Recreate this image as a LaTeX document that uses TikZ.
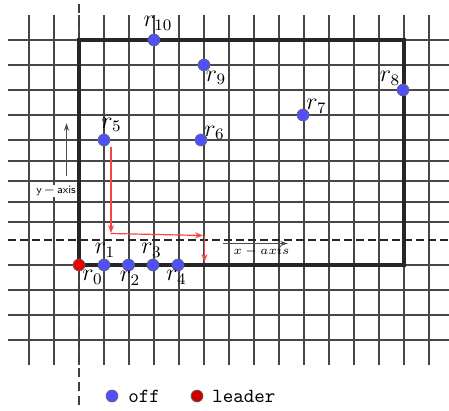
\documentclass[tikz,border=0pt]{standalone}
\usetikzlibrary{arrows.meta}
\definecolor{robotblue}{RGB}{80,80,250}
\definecolor{leaderred}{RGB}{240,0,0}
\definecolor{legendred}{RGB}{200,0,0}
\definecolor{pathred}{RGB}{245,70,70}
\begin{document}
\begin{tikzpicture}[x=0.5pt,y=-0.5pt,
  gridline/.style={draw=black!72,line width=0.55pt},
  border/.style={draw=black!85,line width=1.6pt},
  axisdashv/.style={draw=black!75,line width=1pt,dash pattern=on 4.5pt off 2.5pt},
  axisdashh/.style={draw=black!85,line width=1.3pt,dash pattern=on 4pt off 2pt},
  robot/.style={circle,draw=black!60,line width=0.3pt,fill=robotblue,minimum size=6pt,inner sep=0pt},
  leaderbot/.style={robot,fill=leaderred},
  legendleader/.style={robot,fill=legendred},
  rlabel/.style={font=\large,inner sep=0pt},
  legendtext/.style={font=\ttfamily,inner sep=0pt,anchor=west},
  redpath/.style={draw=pathred,line width=0.6pt,-{Stealth[length=4pt,width=3pt]}},
  axisarrow/.style={draw=black!70,line width=0.6pt,-{Stealth[length=4pt,width=2.6pt]}},
]
\useasboundingbox (0,0) rectangle (449,411);
% grid
\foreach \x in {29,54,...,429} \draw[gridline] (\x,15) -- (\x,365);
\foreach \y in {40,65,90,115,140,161,181,202,222,265,290,315,340} \draw[gridline] (8,\y) -- (449,\y);
% axes (dashed)
\coordinate (vtop) at (79,4);
\coordinate (vbot) at (79,408);
\coordinate (hleft) at (8,240);
\coordinate (hright) at (449,240);
\draw[axisdashv] (vtop) -- (vbot);
\draw[axisdashh] (hleft) -- (hright);
\fill[black!70] (79,240) circle (1.1pt);
% border rectangle
\coordinate (bl) at (79,265);
\coordinate (tr) at (404,40);
\draw[border] (bl) rectangle (tr);
% axis arrows
\coordinate (ya0) at (66.5,176);
\coordinate (ya1) at (66.5,123);
\draw[axisarrow] (ya0) -- (ya1);
\node[font=\fontsize{5.6}{6}\selectfont\sffamily,fill=white,inner sep=0.6pt] (ylab) at (56,191) {y\,$-$\,axis};
\coordinate (xa0) at (223,243.5);
\coordinate (xa1) at (288,243.5);
\draw[axisarrow] (xa0) -- (xa1);
\node[font=\fontsize{6}{7}\selectfont,inner sep=0pt] (xlab) at (261.5,251.5) {$x-axis$};
% red path
\coordinate (p0) at (111,147);
\coordinate (p1) at (111,233);
\coordinate (p2) at (110.5,233.5);
\coordinate (p3) at (203,235.5);
\coordinate (p4) at (204.5,236);
\coordinate (p5) at (204.5,262);
\draw[redpath] (p0) -- (p1);
\draw[redpath] (p2) -- (p3);
\draw[redpath] (p4) -- (p5);
% robots
\node[leaderbot] (r0) at (79,265) {};
\node[robot] (r1) at (104,265) {};
\node[robot] (r2) at (128.5,265) {};
\node[robot] (r3) at (153,265) {};
\node[robot] (r4) at (178,265) {};
\node[robot] (r5) at (104,140) {};
\node[robot] (r6) at (201,140) {};
\node[robot] (r7) at (303,115) {};
\node[robot] (r8) at (403,90) {};
\node[robot] (r9) at (204,65) {};
\node[robot] (r10) at (154,40) {};
% labels
\node[rlabel] (l0) at (92.5,277.5) {$r_0$};
\node[rlabel] (l1) at (105,250.5) {$r_1$};
\node[rlabel] (l2) at (130,278.5) {$r_2$};
\node[rlabel] (l3) at (151.5,250.5) {$r_3$};
\node[rlabel] (l4) at (176.5,277.5) {$r_4$};
\node[rlabel] (l5) at (111.5,125) {$r_5$};
\node[rlabel] (l6) at (214.5,133) {$r_6$};
\node[rlabel] (l7) at (316.5,106.5) {$r_7$};
\node[rlabel] (l8) at (390,78.5) {$r_8$};
\node[rlabel] (l9) at (216,78) {$r_9$};
\node[rlabel] (l10) at (158,23.5) {$r_{10}$};
% legend
\node[robot] (legoff) at (112,396) {};
\node[legendtext] (txtoff) at (128,396) {off};
\node[legendleader] (legleader) at (197,396) {};
\node[legendtext] (txtleader) at (212,396) {leader};
\end{tikzpicture}
\end{document}
